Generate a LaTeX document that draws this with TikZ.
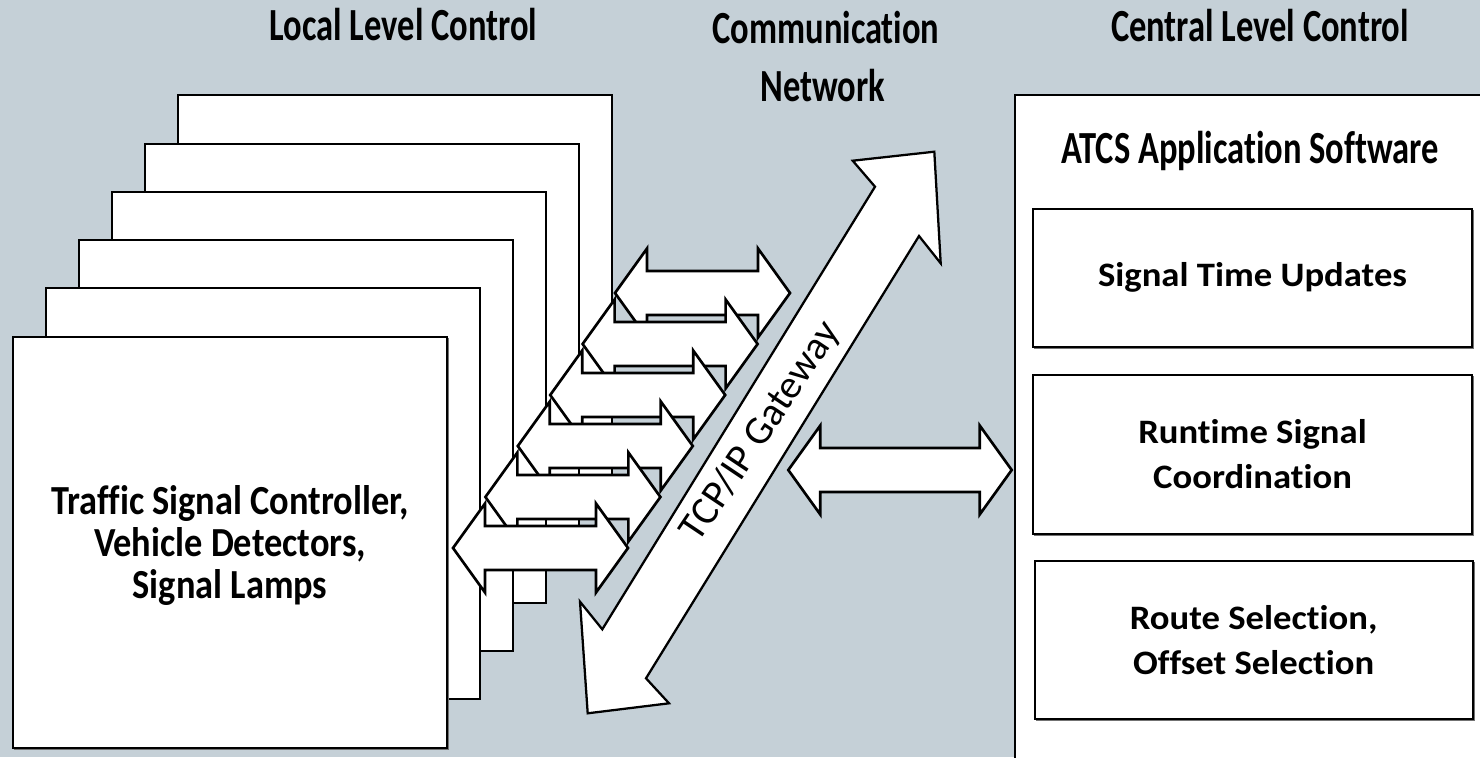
\documentclass[tikz,border=0pt]{standalone}
\usepackage{fontspec}
\setmainfont{Carlito}[Ligatures=NoCommon]
\newfontfamily\headfont{Carlito}[FakeStretch=0.75, Ligatures=NoCommon]
\newfontfamily\cardfont{Carlito}[FakeStretch=0.88, Ligatures=NoCommon]
\newfontfamily\modfont{Carlito}[FakeStretch=1.07, Ligatures=NoCommon]

\definecolor{panelgray}{RGB}{197,208,215}

\tikzset{
  card/.style={draw=black, line width=1.5pt, fill=white},
  shadowed/.style={preaction={draw=black!55, line width=1pt, transform canvas={shift={(1.3pt,-1.3pt)}}}},
  linkshape/.style={draw=black, line width=2pt, fill=white, line join=miter},
  gatewayshape/.style={draw=black, line width=1.7pt, fill=white, line join=miter},
  appframe/.style={draw=black, line width=2pt, fill=white},
  modulebox/.style={draw=black, line width=1.5pt, fill=white, shadowed},
  heading/.style={font=\headfont\bfseries\fontsize{34.5}{43.8}\selectfont, inner sep=0pt, anchor=base},
  cardtext/.style={font=\cardfont\bfseries\fontsize{31}{31.5}\selectfont, align=center, inner sep=0pt},
  moduletext/.style={font=\modfont\bfseries\fontsize{25.7}{33.75}\selectfont, align=center, inner sep=0pt},
  gatetext/.style={font=\fontsize{30}{36}\selectfont, inner sep=0pt}
}

% block double arrow: left tip x, tip y, overall length
\newcommand{\linkarr}[3]{%
  \draw[linkshape] (#1,#2) -- ++(32,-44.5) -- ++(0,22.5) -- ++(#3-64,0) -- ++(0,-22.5)
    -- ++(32,44.5) -- ++(-32,44.5) -- ++(0,-22.5) -- ++(-#3+64,0) -- ++(0,22.5) -- cycle;}

\begin{document}
\begin{tikzpicture}[x=0.75pt,y=0.75pt,yscale=-1,xscale=1]
\useasboundingbox (0,0) rectangle (1480,757);
\clip (0,0) rectangle (1480,757);
\fill[panelgray] (0,0) rectangle (1480,757);

% central level: application software and its modules
\draw[appframe] (1015,95) rectangle (1482,780);
\node[heading] (atcs) at (1250,163.3) {ATCS Application Software};
\draw[modulebox] (1033,209) rectangle (1472,347);
\node[moduletext, anchor=base] (upd) at (1252.5,286.7) {Signal Time Updates};
\draw[modulebox] (1033,375) rectangle (1472,533.5);
\node[moduletext] (coord) at (1252.5,454.3) {Runtime Signal\\Coordination};
\draw[modulebox] (1034.5,561) rectangle (1473,719);
\node[moduletext] (route) at (1253.7,640) {Route Selection,\\Offset Selection};

% gateway <-> central level
\linkarr{788.3}{470}{223.4}

% TCP/IP gateway arrow
\draw[gatewayshape] (934.3,151.7) -- (852.7,160.7) -- (875,186.7) -- (602.3,629.3)
  -- (580,601.7) -- (587.7,713.3) -- (669,703.3) -- (646,678.3) -- (919,236)
  -- (940.7,263.3) -- cycle;
\node[gatetext, rotate=56.2] (gw) at (761,432) {TCP/IP Gateway};

% local controllers, back to front, each with its link
\foreach \k in {5,4,...,1}{
  \draw[card] ({13+32.9*\k},{336.7-48.3*\k}) rectangle ++(434,411);
  \linkarr{453+32.4*\k}{548-51*\k}{175}
}
\draw[card, shadowed] (13,336.7) rectangle ++(434,411);
\linkarr{453}{548}{175}
\node[cardtext] (tsc) at (230,545) {Traffic Signal Controller,\\Vehicle Detectors,\\Signal Lamps};

% headings
\node[heading] (local) at (403.5,40.7) {Local Level Control};
\node[heading] (comm) at (826,43.3) {Communication};
\node[heading] (net) at (823,101.7) {Network};
\node[heading] (central) at (1260,41) {Central Level Control};
\end{tikzpicture}
\end{document}
